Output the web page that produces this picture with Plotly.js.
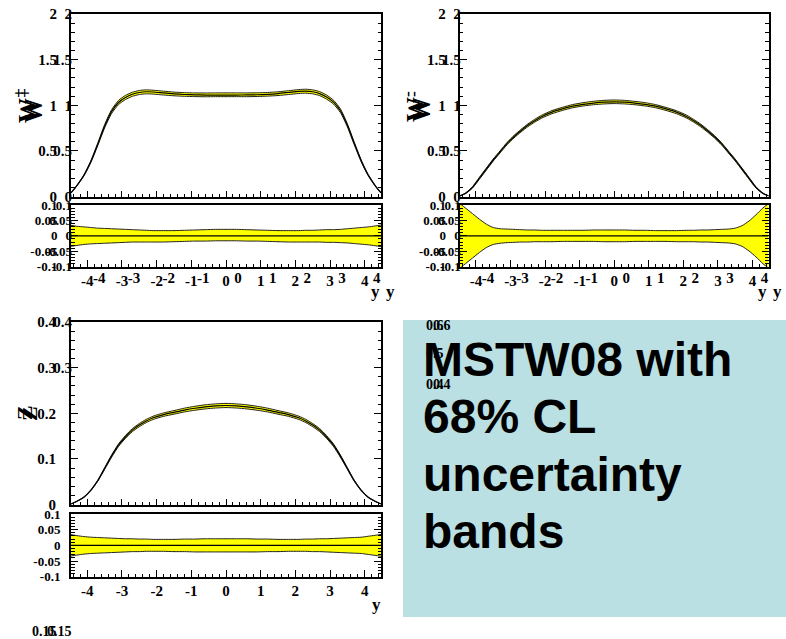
<!DOCTYPE html>
<html><head><meta charset="utf-8">
<script src="https://cdn.plot.ly/plotly-3.0.1.min.js"></script>
<style>html,body{margin:0;padding:0;background:#fff}#plot{width:786px;height:639px}</style>
</head><body><div id="plot"></div>
<script>
// ---------- data ----------
const rapidity = [-4.47,-4.3,-4.1,-3.9,-3.7,-3.5,-3.3,-3.1,-2.9,-2.7,-2.5,-2.3,-2.1,-1.8,-1.5,-1.2,-0.9,-0.6,-0.3,0,0.3,0.6,0.9,1.2,1.5,1.8,2.1,2.3,2.5,2.7,2.9,3.1,3.3,3.5,3.7,3.9,4.1,4.3,4.47];

const wPlusCentral = [0.04,0.12,0.23,0.38,0.57,0.77,0.93,1.03,1.085,1.12,1.14,1.148,1.145,1.135,1.125,1.118,1.114,1.112,1.112,1.112,1.112,1.113,1.115,1.12,1.128,1.14,1.152,1.155,1.148,1.128,1.09,1.035,0.94,0.78,0.58,0.39,0.235,0.12,0.04];
const wPlusRelUp = [0.034,0.031,0.029,0.027,0.025,0.024,0.023,0.022,0.021,0.020,0.019,0.018,0.017,0.017,0.017,0.018,0.019,0.020,0.021,0.021,0.021,0.020,0.019,0.018,0.017,0.017,0.017,0.018,0.018,0.019,0.020,0.020,0.021,0.023,0.025,0.027,0.029,0.032,0.035];
const wPlusRelDown = [-0.034,-0.031,-0.028,-0.026,-0.025,-0.024,-0.023,-0.022,-0.021,-0.020,-0.020,-0.020,-0.020,-0.020,-0.019,-0.018,-0.017,-0.017,-0.016,-0.016,-0.016,-0.017,-0.017,-0.018,-0.019,-0.020,-0.020,-0.020,-0.020,-0.020,-0.021,-0.021,-0.022,-0.023,-0.025,-0.027,-0.029,-0.032,-0.035];

const wMinusCentral = [0.005,0.035,0.10,0.20,0.30,0.40,0.49,0.58,0.655,0.72,0.78,0.83,0.875,0.925,0.96,0.99,1.01,1.024,1.034,1.038,1.034,1.024,1.01,0.99,0.96,0.925,0.875,0.83,0.78,0.72,0.655,0.58,0.49,0.40,0.30,0.20,0.10,0.035,0.005];
const wMinusRelUp = [0.105,0.09,0.072,0.054,0.038,0.027,0.023,0.022,0.021,0.020,0.019,0.019,0.018,0.018,0.018,0.018,0.018,0.019,0.019,0.019,0.019,0.018,0.018,0.017,0.017,0.017,0.018,0.018,0.019,0.019,0.020,0.021,0.022,0.025,0.033,0.048,0.068,0.09,0.105];
const wMinusRelDown = [-0.105,-0.09,-0.072,-0.054,-0.038,-0.028,-0.024,-0.022,-0.021,-0.020,-0.020,-0.019,-0.019,-0.019,-0.018,-0.018,-0.018,-0.018,-0.019,-0.019,-0.019,-0.018,-0.018,-0.018,-0.018,-0.019,-0.019,-0.019,-0.020,-0.020,-0.021,-0.022,-0.023,-0.026,-0.034,-0.049,-0.068,-0.09,-0.105];

const zCentral = [0.001,0.007,0.016,0.031,0.052,0.079,0.106,0.13,0.148,0.163,0.174,0.183,0.19,0.197,0.202,0.207,0.211,0.214,0.216,0.217,0.216,0.214,0.211,0.207,0.202,0.197,0.19,0.183,0.174,0.163,0.148,0.13,0.106,0.079,0.052,0.031,0.016,0.007,0.001];
const zRelUp = [0.034,0.031,0.028,0.026,0.025,0.024,0.023,0.022,0.021,0.021,0.020,0.020,0.019,0.019,0.019,0.020,0.020,0.021,0.021,0.021,0.021,0.021,0.020,0.020,0.019,0.019,0.019,0.020,0.020,0.021,0.021,0.022,0.023,0.024,0.025,0.026,0.029,0.032,0.035];
const zRelDown = [-0.034,-0.031,-0.028,-0.026,-0.025,-0.024,-0.023,-0.022,-0.021,-0.020,-0.020,-0.019,-0.019,-0.019,-0.020,-0.020,-0.021,-0.021,-0.021,-0.021,-0.021,-0.021,-0.021,-0.020,-0.020,-0.019,-0.019,-0.019,-0.020,-0.020,-0.021,-0.022,-0.023,-0.024,-0.025,-0.026,-0.029,-0.032,-0.035];

const xTickVals = [-4,-3,-2,-1,0,1,2,3,4];
const xTickText = ["-4","-3","-2","-1","0","1","2","3","4"];
const wTickVals = [0,0.5,1,1.5,2];
const wTickText = ["0","0.5","1","1.5","2"];
const zTickVals = [0,0.1,0.2,0.3,0.4];
const zTickText = ["0","0.1","0.2","0.3","0.4"];
const zGhostTickVals = [0.3,0.4];
const zGhostTickText = ["0.3","0.4"];
const ratioTickVals = [-0.1,-0.05,0,0.05,0.1];
const ratioTickText = ["-0.1","-0.05","0","0.05","0.1"];

const panelTitles = ["W<sup>+</sup>","W<sup>-</sup>","Z"];
const xTitle = "y";
const boxLines = ["MSTW08 with","68% CL","uncertainty","bands"];
const strayLabels = ["0.6","0.5","0.4","0.15"];

// ---------- geometry helpers ----------
const W = 786, H = 639;
const fx = p => p / W;
const fy = p => 1 - p / H;
const XR = [-4.47, 4.47];
const serif = (size) => ({family: "Liberation Serif", size: size, color: "black", weight: "bold"});

const domA = [fx(71), fx(381)];
const domB = [fx(459.7), fx(768.7)];
const domTopMain = [fy(196.5), fy(14)];
const domTopRatio = [fy(266.7), fy(205)];
const domBotMain = [fy(504.5), fy(322)];
const domBotRatio = [fy(576.7), fy(514)];

// ---------- traces ----------
const data = [];
function band(xa, ya, lo, hi, mid, lw) {
  data.push({x: rapidity, y: lo, xaxis: xa, yaxis: ya, type: 'scatter', mode: 'lines',
    line: {color: '#222', width: lw, shape: 'spline', smoothing: 0.6}, showlegend: false, hoverinfo: 'skip'});
  data.push({x: rapidity, y: hi, xaxis: xa, yaxis: ya, type: 'scatter', mode: 'lines', fill: 'tonexty',
    fillcolor: '#ffff00', line: {color: '#222', width: lw, shape: 'spline', smoothing: 0.6}, showlegend: false, hoverinfo: 'skip'});
  data.push({x: rapidity, y: mid, xaxis: xa, yaxis: ya, type: 'scatter', mode: 'lines',
    line: {color: 'black', width: 1.2, shape: 'spline', smoothing: 0.6}, showlegend: false, hoverinfo: 'skip'});
}
function panel(central, up, down, xm, ym, xr, yr) {
  const hi = central.map((c, i) => c * (1 + up[i]));
  const lo = central.map((c, i) => c * (1 + down[i]));
  band(xm, ym, lo, hi, central, 1);
  const ratioMid = central.map(c => c / c - 1);
  band(xr, yr, down, up, ratioMid, 1);
}
panel(wPlusCentral, wPlusRelUp, wPlusRelDown, 'x', 'y', 'x2', 'y2');
panel(wMinusCentral, wMinusRelUp, wMinusRelDown, 'x3', 'y3', 'x4', 'y4');
panel(zCentral, zRelUp, zRelDown, 'x5', 'y5', 'x6', 'y6');
// empty carriers so the ghost-label axes get drawn
[['x','y7'],['x3','y8'],['x2','y9'],['x4','y10'],['x7','y2'],['x8','y4'],['x5','y11']].forEach(([a,b]) =>
  data.push({x: [], y: [], xaxis: a, yaxis: b, type: 'scatter', mode: 'lines', showlegend: false, hoverinfo: 'skip'}));

// ---------- axes ----------
function xAxis(dom, anchor, labels, tlen) {
  return {domain: dom, anchor: anchor, range: XR, showgrid: false, zeroline: false,
    showline: true, linecolor: 'black', linewidth: 2, mirror: true,
    ticks: 'inside', ticklen: tlen, tickwidth: 1, tickcolor: 'black',
    tickmode: 'array', tickvals: xTickVals, ticktext: xTickText,
    minor: {ticks: 'inside', ticklen: 3, tickwidth: 1, tickcolor: 'black', tickmode: 'linear', tick0: 0, dtick: 0.2, showgrid: false},
    showticklabels: labels, tickfont: serif(15), ticklabelstandoff: -1, fixedrange: true};
}
function yAxis(dom, anchor, range, vals, text, minorStep, fsize, standoff) {
  return {domain: dom, anchor: anchor, range: range, showgrid: false, zeroline: false,
    showline: true, linecolor: 'black', linewidth: 2, mirror: 'ticks',
    ticks: 'inside', ticklen: 7, tickwidth: 1, tickcolor: 'black',
    tickmode: 'array', tickvals: vals, ticktext: text,
    minor: {ticks: 'inside', ticklen: 3.5, tickwidth: 1, tickcolor: 'black', tickmode: 'linear', tick0: 0, dtick: minorStep, showgrid: false},
    tickfont: serif(fsize), ticklabelstandoff: standoff, fixedrange: true};
}
function ghostY(over, anchor, range, vals, text, fsize, standoff) {
  return {overlaying: over, anchor: anchor, side: 'left', range: range, showgrid: false, zeroline: false,
    showline: false, ticks: '', tickmode: 'array', tickvals: vals, ticktext: text,
    tickfont: serif(fsize), ticklabelstandoff: standoff, fixedrange: true};
}
function ghostX(over, anchor, shift) {
  return {overlaying: over, anchor: anchor, side: 'bottom', range: XR, showgrid: false, zeroline: false,
    showline: false, ticks: '', tickmode: 'array', tickvals: xTickVals, ticktext: xTickText,
    tickfont: serif(15), ticklabelshift: shift, ticklabelstandoff: 0, fixedrange: true};
}

const layout = {
  width: W, height: H, margin: {l: 0, r: 0, t: 0, b: 0},
  paper_bgcolor: 'white', plot_bgcolor: 'white', showlegend: false,
  xaxis: xAxis(domA, 'y', false, 6),
  yaxis: yAxis(domTopMain, 'x', [0, 2], wTickVals, wTickText, 0.1, 15, 9),
  xaxis2: xAxis(domA, 'y2', true, 7),
  yaxis2: yAxis(domTopRatio, 'x2', [-0.1, 0.1], ratioTickVals, ratioTickText, 0.01, 13, 9),
  xaxis3: xAxis(domB, 'y3', false, 6),
  yaxis3: yAxis(domTopMain, 'x3', [0, 2], wTickVals, wTickText, 0.1, 15, 9),
  xaxis4: xAxis(domB, 'y4', true, 7),
  yaxis4: yAxis(domTopRatio, 'x4', [-0.1, 0.1], ratioTickVals, ratioTickText, 0.01, 13, 9),
  xaxis5: xAxis(domA, 'y5', false, 6),
  yaxis5: yAxis(domBotMain, 'x5', [0, 0.4], zTickVals, zTickText, 0.02, 15, 10),
  xaxis6: xAxis(domA, 'y6', true, 7),
  yaxis6: yAxis(domBotRatio, 'x6', [-0.1, 0.1], ratioTickVals, ratioTickText, 0.01, 13, 6),
  yaxis7: ghostY('y', 'x', [0, 2], wTickVals, wTickText, 15, -2),
  yaxis8: ghostY('y3', 'x3', [0, 2], wTickVals, wTickText, 15, -2),
  yaxis9: ghostY('y2', 'x2', [-0.1, 0.1], ratioTickVals, ratioTickText, 13, -2),
  yaxis10: ghostY('y4', 'x4', [-0.1, 0.1], ratioTickVals, ratioTickText, 13, -2),
  yaxis11: ghostY('y5', 'x5', [0, 0.4], zGhostTickVals, zGhostTickText, 15, -2),
  xaxis7: ghostX('x2', 'y2', 12),
  xaxis8: ghostX('x4', 'y4', 12),
  shapes: [
    {type: 'rect', xref: 'paper', yref: 'paper', x0: fx(403), x1: 1, y0: fy(617), y1: fy(320),
     fillcolor: '#bae0e3', line: {width: 0}, layer: 'below'}
  ],
  annotations: []
};

const ann = layout.annotations;
function txt(text, x, y, font, opts) {
  ann.push(Object.assign({text: text, xref: 'paper', yref: 'paper', x: fx(x), y: fy(y),
    showarrow: false, font: font, xanchor: 'center', yanchor: 'middle'}, opts || {}));
}
// y-axis titles (rotated, doubled as in the original)
txt(panelTitles[0], 25, 106, serif(25), {textangle: -90});
txt(panelTitles[0], 31, 106, serif(25), {textangle: -90});
txt(panelTitles[1], 413, 107, serif(25), {textangle: -90});
txt(panelTitles[1], 419, 107, serif(25), {textangle: -90});
txt(panelTitles[2], 24, 413, serif(22), {textangle: -90});
txt(panelTitles[2], 29, 413, serif(22), {textangle: -90});
// x-axis titles
txt(xTitle, 375, 292, serif(17));
txt(xTitle, 390, 292, serif(17));
txt(xTitle, 762, 292, serif(17));
txt(xTitle, 777, 292, serif(17));
txt(xTitle, 376, 604, serif(17));
// box text
const boxFont = {family: "Liberation Sans", size: 48, color: 'black', weight: 'bold'};
[359.5, 416.8, 474, 531].forEach((yy, i) => txt(boxLines[i], 421, yy, boxFont, {xanchor: 'left'}));
// stray labels from the original
txt(strayLabels[0], 424, 325, serif(14), {xanchor: 'left'});
txt(strayLabels[0], 431, 325, serif(14), {xanchor: 'left'});
txt(strayLabels[1], 424, 353, serif(14), {xanchor: 'left'});
txt(strayLabels[2], 424, 384, serif(14), {xanchor: 'left'});
txt(strayLabels[2], 431, 384, serif(14), {xanchor: 'left'});
txt(strayLabels[3], 30, 631, serif(14), {xanchor: 'left'});
txt(strayLabels[3], 45, 631, serif(14), {xanchor: 'left'});

Plotly.newPlot('plot', data, layout, {staticPlot: true, displayModeBar: false});
</script>
</body></html>
